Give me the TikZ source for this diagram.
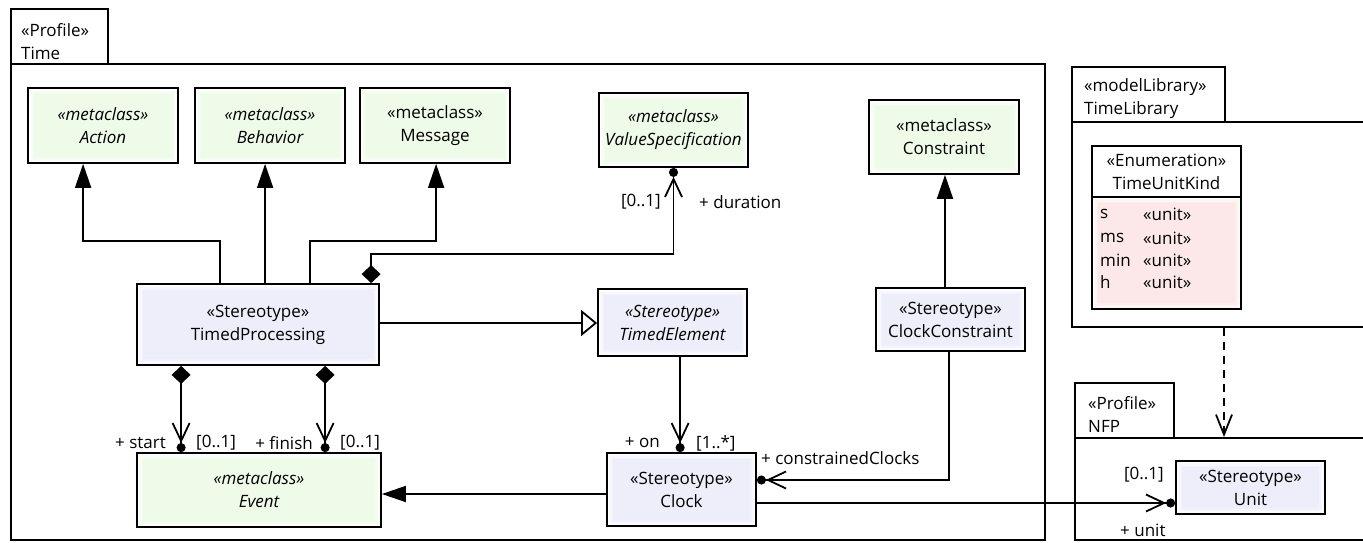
\documentclass[tikz,border=0pt]{standalone}
\usepackage{fontspec}
\setmainfont{Open Sans}
\usetikzlibrary{arrows.meta,calc}

\definecolor{metafill}{RGB}{238,251,233}
\definecolor{stfill}{RGB}{238,238,251}
\definecolor{enumfill}{RGB}{252,232,232}

\tikzset{
  umlfont/.style={font=\fontsize{17}{23}\selectfont},
  % soft tinted interior, fading to white near the border
  glow/.style={path picture={
      \foreach \ins/\amt in {1.5/25, 3/50, 4.5/75, 6/100}{
        \fill[#1!\amt!white] ([shift={(\ins pt,-\ins pt)}]path picture bounding box.north west)
          rectangle ([shift={(-\ins pt,\ins pt)}]path picture bounding box.south east);}}},
  umlbox/.style 2 args={draw, line width=1.8pt, fill=white, minimum width=#1pt,
      minimum height=#2pt, inner sep=0pt, align=center, umlfont},
  metabox/.style 2 args={umlbox={#1}{#2}, glow=metafill},
  stbox/.style 2 args={umlbox={#1}{#2}, glow=stfill},
  enumbox/.style 2 args={umlbox={#1}{#2}, glow=enumfill},
  pkg/.style 2 args={draw, line width=1.8pt, fill=white, minimum width=#1pt,
      minimum height=#2pt, inner sep=0pt, anchor=north west},
  pkgtext/.style={umlfont, align=left, anchor=west, inner sep=0pt},
  lbl/.style={umlfont, inner sep=0pt},
  conn/.style={line width=1.8pt},
  ext/.style={conn, -{Triangle[length=24pt,width=16pt]}},
  gen/.style={conn, -{Triangle[open,length=16pt,width=26pt,fill=white]}},
  nav/.style={conn, -{Straight Barb[length=18pt,width=17pt] Circle[length=9pt]}},
  compnav/.style={conn, {Diamond[length=18pt,width=19pt]}-{Straight Barb[length=18pt,width=17pt] Circle[length=9pt]}},
  dep/.style={conn, dash pattern=on 8pt off 6pt, -{Straight Barb[length=20pt,width=16pt]}},
}

\begin{document}
\begin{tikzpicture}[x=1pt,y=-1pt]
\clip (0,0) rectangle (1363,542);
\fill[white] (0,0) rectangle (1363,542);

% ---------- packages ----------
\node[pkg={97}{55}] (ttab) at (10,8) {};
\node[pkg={1034}{476}] (tbody) at (10,63) {};
\node[pkgtext] at (21,42) {«Profile»\\Time};

\node[pkg={153}{55}] (tltab) at (1071,66) {};
\node[pkg={340}{205}] (tlbody) at (1071,121) {};
\node[pkgtext] at (1084,98.5) {«modelLibrary»\\TimeLibrary};

\node[pkg={99}{55}] (nfptab) at (1074,382) {};
\node[pkg={340}{102}] (nfpbody) at (1074,437) {};
\node[pkgtext] at (1088,414.5) {«Profile»\\NFP};

% ---------- classes ----------
\node[metabox={150}{75}] (act) at (103,125.5) {\itshape «metaclass»\\\itshape Action};
\node[metabox={150}{75}] (beh) at (270,125.5) {\itshape «metaclass»\\\itshape Behavior};
\node[metabox={150}{75}] (msg) at (435,125.5) {«metaclass»\\Message};
\node[metabox={149}{74}] (vs) at (673.5,130) {\itshape «metaclass»\\\itshape ValueSpecification};
\node[metabox={150}{74}] (con) at (944,137) {«metaclass»\\Constraint};

\node[stbox={242}{81}] (tp) at (258,324.5) {«Stereotype»\\TimedProcessing};
\node[stbox={149}{67}] (te) at (672.5,322.5) {\itshape «Stereotype»\\\itshape TimedElement};
\node[stbox={149}{63}] (cc) at (950.5,319.5) {«Stereotype»\\ClockConstraint};
\node[metabox={244}{74}] (ev) at (259,490) {\itshape «metaclass»\\\itshape Event};
\node[stbox={149}{73}] (clk) at (681.5,489.5) {«Stereotype»\\Clock};
\node[stbox={149}{53}] (unit) at (1250.5,487.5) {«Stereotype»\\Unit};

% enumeration with its literal compartment
\node[umlbox={149}{51}] (tukhead) at (1166.5,171.5) {«Enumeration»\\TimeUnitKind};
\node[enumbox={149}{112}] (tukbody) at (1166.5,253) {};
\foreach \lit/\yy in {s/214, ms/238, min/260, h/282}{
  \node[lbl, anchor=west] at (1100,\yy) {\lit};
  \node[lbl, anchor=west] at (1143,\yy) {«unit»};
}

% ---------- connectors ----------
\coordinate (tpa) at ([xshift=84pt]tp.north west);
\draw[ext] (tpa) -- ++(0,-42) -| ([xshift=56pt]act.south west);
\coordinate (tpb) at ([xshift=129pt]tp.north west);
\draw[ext] (tpb) -- (tpb |- beh.south);
\coordinate (tpc) at ([xshift=174pt]tp.north west);
\draw[ext] (tpc) -- ++(0,-42) -| ([xshift=77pt]msg.south west);
\coordinate (tpd) at ([xshift=235pt]tp.north west);
\draw[compnav] (tpd) -- ++(0,-29) -| (vs.south);

\coordinate (tpe) at ([yshift=1.5pt]tp.east);
\draw[gen] (tpe) -- (tpe -| te.west);

\coordinate (tps) at ([xshift=45pt]tp.south west);
\draw[compnav] (tps) -- (tps |- ev.north);
\coordinate (tpf) at ([xshift=189pt]tp.south west);
\draw[compnav] (tpf) -- (tpf |- ev.north);

\coordinate (tec) at ([xshift=83pt]te.south west);
\draw[nav] (tec) -- (tec |- clk.north);

\coordinate (ce) at ([yshift=-4.5pt]clk.west);
\draw[ext] (ce) -- (ce -| ev.east);

\coordinate (ccl) at ([yshift=9.5pt]clk.east);
\draw[nav] ([xshift=-1.5pt]cc.south) |- (ccl);

\coordinate (ccu) at ([xshift=-5.5pt]cc.north);
\draw[ext] (ccu) -- (ccu |- con.south);

\coordinate (cu) at ([yshift=-13.5pt]clk.east);
\draw[nav] (cu) -- (cu -| unit.west);

\coordinate (tld) at ([xshift=153pt]tlbody.south west);
\draw[dep] (tld) -- (tld |- nfpbody.north);

% ---------- association end labels ----------
\node[lbl, anchor=east] at (661,202) {[0..1]};
\node[lbl, anchor=west] at (699,202) {+ duration};
\node[lbl, anchor=east] at (166,443) {+ start};
\node[lbl, anchor=west] at (196,443) {[0..1]};
\node[lbl, anchor=east] at (313,443) {+ finish};
\node[lbl, anchor=west] at (340,443) {[0..1]};
\node[lbl, anchor=east] at (660,443) {+ on};
\node[lbl, anchor=west] at (696,443) {[1..*]};
\node[lbl, anchor=west] at (761,458) {+ constrainedClocks};
\node[lbl, anchor=east] at (1164,475) {[0..1]};
\node[lbl, anchor=west] at (1120,530) {+ unit};
\end{tikzpicture}
\end{document}
